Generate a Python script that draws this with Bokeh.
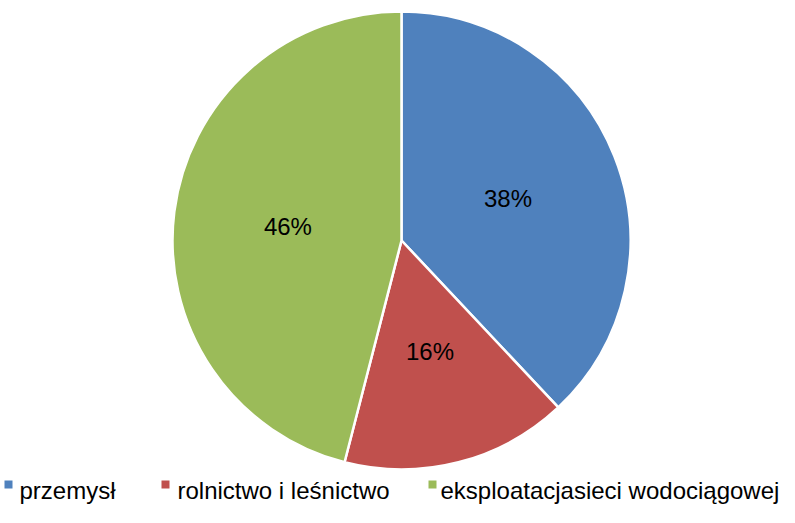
import numpy as np
from bokeh.plotting import figure
from bokeh.models import Range1d, ColumnDataSource
from bokeh.core.properties import value
from bokeh.embed import file_html
from bokeh.resources import INLINE

categories = ["przemysł", "rolnictwo i leśnictwo", "eksploatacjasieci wodociągowej"]
shares = [38, 16, 46]
labels = ["38%", "16%", "46%"]
colors = ["#4F81BD", "#C0504D", "#9BBB59"]

W, H = 779, 507
p = figure(width=W, height=H, output_backend="svg", toolbar_location=None,
           x_range=Range1d(0, W), y_range=Range1d(0, H), min_border=0)
p.axis.visible = False
p.grid.visible = False
p.outline_line_color = None
p.background_fill_color = "white"

cx, cy, R = 401, 267, 229
vals = np.array(shares, dtype=float)
frac = vals / vals.sum()
ends_cum = np.cumsum(frac)
starts_cum = ends_cum - frac
start_angles = np.pi / 2 - 2 * np.pi * starts_cum
end_angles = np.pi / 2 - 2 * np.pi * ends_cum
src = ColumnDataSource(dict(start=start_angles, end=end_angles, color=colors,
                            cat=categories))
p.wedge(x=cx, y=cy, radius=R, start_angle="start", end_angle="end",
        direction="clock", fill_color="color", line_color="white",
        line_width=2.5, source=src)

mid = (start_angles + end_angles) / 2
lx = cx + 0.5 * R * np.cos(mid)
ly = cy + 0.5 * R * np.sin(mid)
p.text(x=lx, y=ly, text=labels, text_align="center", text_baseline="middle",
       text_font=value("Liberation Sans"), text_font_size="24px", text_color="black")

# legend
sq_x = [8, 165, 432]
tx_x = [19, 177, 440]
p.scatter(x=sq_x, y=[23] * 3, marker="square", size=8, fill_color=colors,
          line_color=None)
p.text(x=tx_x, y=[17] * 3, text=categories, text_align="left",
       text_baseline="alphabetic", text_font=value("Liberation Sans"),
       text_font_size="24px", text_color="black")

open("out.html", "w").write(file_html(p, INLINE))
